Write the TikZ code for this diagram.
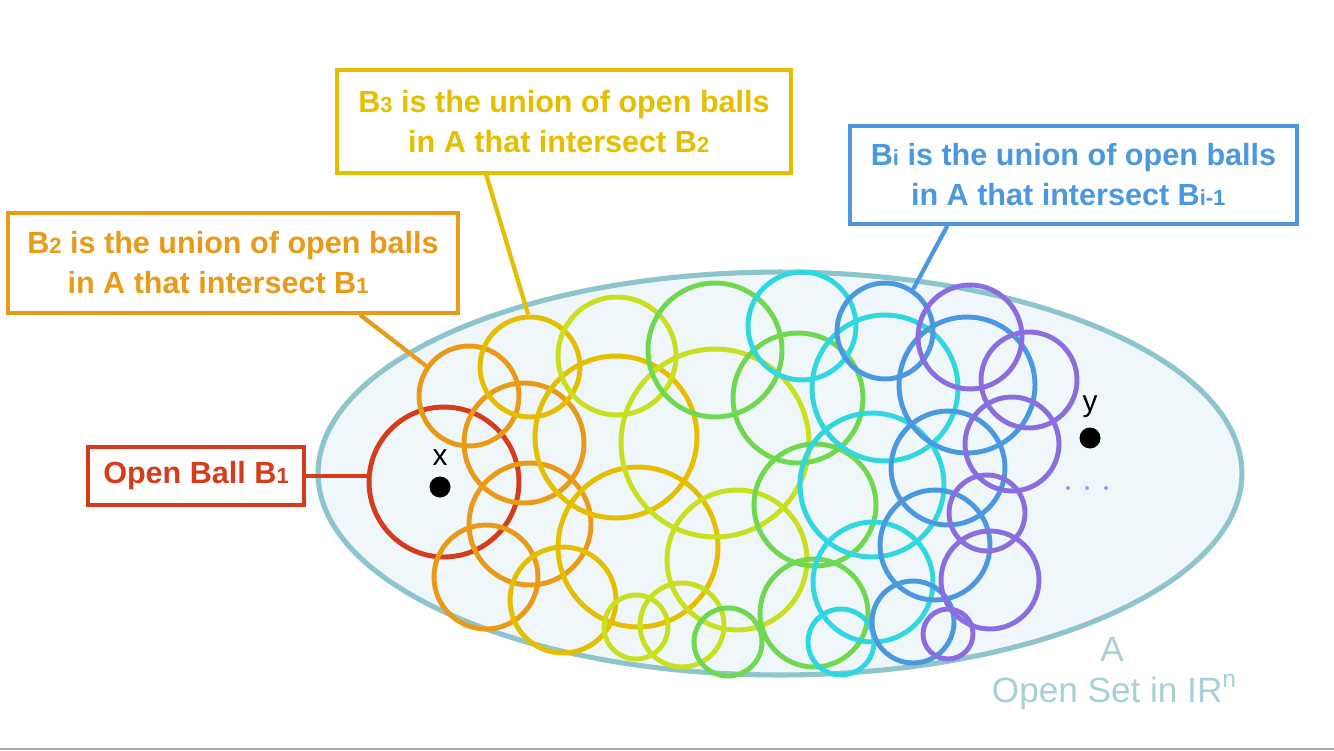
\documentclass[tikz,border=0pt]{standalone}
\usepackage{fontspec}
\setmainfont{Liberation Sans}
\usetikzlibrary{calc}
\definecolor{cred}{HTML}{D43C1C}
\definecolor{corange}{HTML}{E89A18}
\definecolor{cgold}{HTML}{E6BE00}
\definecolor{cyg}{HTML}{C8E020}
\definecolor{cgreen}{HTML}{70D850}
\definecolor{ccyan}{HTML}{30D6E0}
\definecolor{cblue}{HTML}{4A98E0}
\definecolor{cpurple}{HTML}{8A6EE0}
\definecolor{cdots}{HTML}{A898E8}
\definecolor{cellfill}{HTML}{F0F7FB}
\definecolor{celldraw}{HTML}{8EC4CC}
\definecolor{ctext}{HTML}{A8D0D4}
\definecolor{cbottom}{HTML}{AAAAAA}
\newcommand\smallidx[1]{{\fontsize{12.5}{12.5}\selectfont #1}}
\tikzset{
  ball/.style={circle, draw=#1, line width=2.8pt, inner sep=0pt},
  br/.style={minimum size=#1*0.04cm},
  lbl/.style={draw=#1, text=#1, line width=2pt, fill=white, inner sep=0pt,
    align=center, font=\bfseries\fontsize{17.4}{22.7}\selectfont},
  conn/.style={draw=#1, line width=2.4pt},
  ptlabel/.style={font=\fontsize{17}{17}\selectfont, text=black, inner sep=0pt},
  setlabel/.style={font=\fontsize{20}{20}\selectfont, text=ctext, inner sep=0pt},
  dotpt/.style={circle, fill=black, inner sep=0pt, minimum size=0.42cm},
}
\begin{document}
\begin{tikzpicture}[x=0.02cm,y=-0.02cm]
\useasboundingbox (0,0) rectangle (1334,750);
\fill[white] (0,0) rectangle (1334,750);
\draw[cbottom, line width=1.2pt] (0,749) -- (1334,749);

% open set A
\draw[fill=cellfill, draw=celldraw, line width=2.9pt] (780,473.5) ellipse [x radius=9.24cm, y radius=4.03cm];

% red ball B1
\node[ball=cred, br=75] (r1) at (444,482) {};
% orange
\node[ball=corange, br=50] (o1) at (469,396) {};
\node[ball=corange, br=60] (o2) at (524,443) {};
\node[ball=corange, br=61] (o3) at (530,524) {};
\node[ball=corange, br=52] (o4) at (486,577) {};
% gold
\node[ball=cgold, br=50] (g1) at (530,367) {};
\node[ball=cgold, br=81] (g2) at (616,437) {};
\node[ball=cgold, br=80] (g3) at (638,547) {};
\node[ball=cgold, br=53] (g4) at (563,600) {};
% yellow-green
\node[ball=cyg, br=59] (y1) at (617,356) {};
\node[ball=cyg, br=94] (y2) at (715,443) {};
\node[ball=cyg, br=70] (y3) at (737,560) {};
\node[ball=cyg, br=32] (y4) at (636,627) {};
\node[ball=cyg, br=42] (y5) at (682,625) {};
% green
\node[ball=cgreen, br=67] (n1) at (715,350) {};
\node[ball=cgreen, br=65] (n2) at (798,398) {};
\node[ball=cgreen, br=61] (n3) at (815,505) {};
\node[ball=cgreen, br=54] (n4) at (814,613) {};
\node[ball=cgreen, br=34] (n5) at (728,642) {};
% cyan
\node[ball=ccyan, br=54] (c1) at (802,326) {};
\node[ball=ccyan, br=73] (c2) at (885,388) {};
\node[ball=ccyan, br=72] (c3) at (872,485) {};
\node[ball=ccyan, br=60] (c4) at (873,582) {};
\node[ball=ccyan, br=33] (c5) at (841,642) {};
% blue
\node[ball=cblue, br=48] (u1) at (885,331) {};
\node[ball=cblue, br=68] (u2) at (967,385) {};
\node[ball=cblue, br=57] (u3) at (948,468) {};
\node[ball=cblue, br=55] (u4) at (935,545) {};
\node[ball=cblue, br=41] (u5) at (913,622) {};
% purple
\node[ball=cpurple, br=52] (p1) at (970,337) {};
\node[ball=cpurple, br=48] (p2) at (1029,380) {};
\node[ball=cpurple, br=47] (p3) at (1012,444) {};
\node[ball=cpurple, br=38] (p4) at (987,513) {};
\node[ball=cpurple, br=49] (p5) at (990,580) {};
\node[ball=cpurple, br=25] (p6) at (948,634) {};

% points
\node[dotpt] (xd) at (440,487) {};
\node[ptlabel] (xl) at (440,458) {x};
\node[dotpt] (yd) at (1090,438) {};
\node[ptlabel] (yl) at (1090,407) {y};
\foreach \i/\px in {1/1068,2/1087,3/1106}
  \node[circle, fill=cdots, inner sep=0pt, minimum size=0.08cm] (dd\i) at (\px,488) {};

% set labels
\node[setlabel] (la) at (1112,649) {A};
\node[setlabel] (lset) at (1114,692) {Open Set in IR\raisebox{9pt}{\fontsize{14}{14}\selectfont n}};

% label boxes
\node[lbl=corange, minimum width=9cm, minimum height=2cm] (b2) at (233,263)
  {B\smallidx{2} is the union of open balls\\ in A that intersect B\smallidx{1}\hspace*{17pt}};
\node[lbl=cgold, minimum width=9.08cm, minimum height=2.06cm] (b3) at (564,121.5)
  {B\smallidx{3} is the union of open balls\\ in A that intersect B\smallidx{2}\hspace*{6pt}};
\node[lbl=cblue, minimum width=8.94cm, minimum height=1.96cm] (bi) at (1073.5,175)
  {B\smallidx{i} is the union of open balls\\ in A that intersect B\smallidx{i-1}\hspace*{6pt}};
\node[lbl=cred, minimum width=4.32cm, minimum height=1.16cm] (ob) at (196,476)
  {Open Ball B\smallidx{1}};

% connectors
\draw[conn=corange] ($(b2.south west)!0.78!(b2.south east)$) -- (o1.145);
\draw[conn=cgold] ($(b3.south west)!0.33!(b3.south east)$) -- (g1.92);
\draw[conn=cblue] ($(bi.south west)!0.22!(bi.south east)$) -- (u1.56);
\draw[conn=cred] (ob.east) -- (ob.east -| r1.west);
\end{tikzpicture}
\end{document}
